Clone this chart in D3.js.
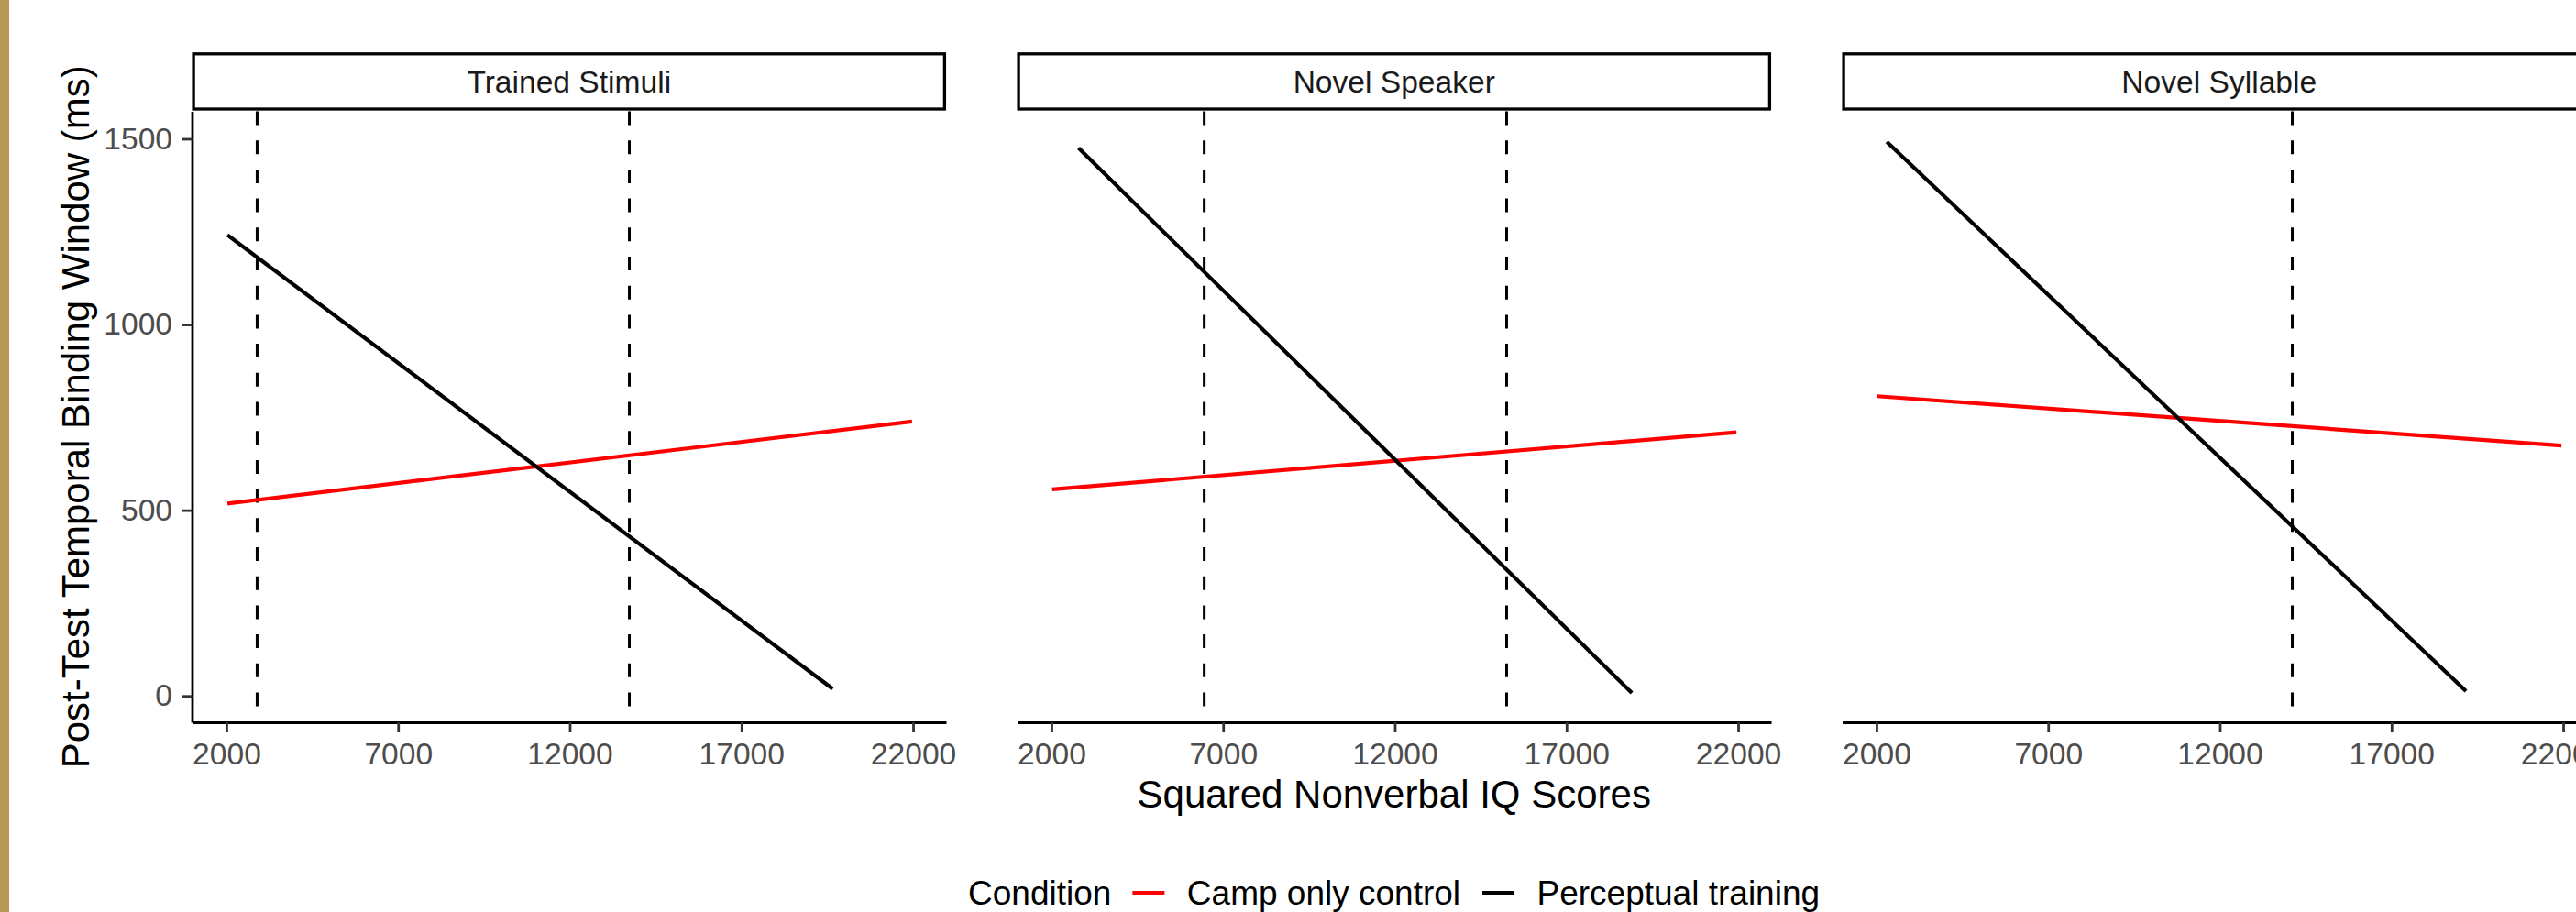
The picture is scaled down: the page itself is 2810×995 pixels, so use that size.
<!DOCTYPE html>
<html>
<head>
<meta charset="utf-8">
<script src="https://cdn.jsdelivr.net/npm/d3@7"></script>
<style>
  body { margin: 0; background: #fff; }
  svg { display: block; font-family: "Liberation Sans", Arial, sans-serif; }
</style>
</head>
<body>
<svg width="2810" height="995"></svg>
<script>
const panels = ["Trained Stimuli", "Novel Speaker", "Novel Syllable"]
const conditions = ["Camp only control", "Perceptual training"]
const xTicks = [2000, 7000, 12000, 17000, 22000]
const yTicks = [0, 500, 1000, 1500]

// end points of the fitted lines, one pair per panel (squared IQ, ms)
const campLines = [
  [{x: 2030, y: 518}, {x: 21970, y: 739}],
  [{x: 2020, y: 556}, {x: 21950, y: 710}],
  [{x: 2020, y: 807}, {x: 21950, y: 674}]
]
const trainingLines = [
  [{x: 2030, y: 1241}, {x: 19660, y: 19}],
  [{x: 2790, y: 1475}, {x: 18905, y: 8}],
  [{x: 2300, y: 1492}, {x: 19170, y: 13}]
]
// dashed vertical markers
const cutoffs = [[2894, 13736], [6450, 15257], [14110]]

const svg = d3.select("svg"),
      panelLeft = 209.5,
      panelStep = 900,
      panelWidth = 822.5,
      panelTop = 121.5,
      panelHeight = 666.5

const x = d3.scaleLinear().domain([1000, 22960]).range([0, panelWidth]),
      y = d3.scaleLinear().domain([-71, 1574]).range([panelHeight, 0]),
      colors = d3.scaleOrdinal().domain(conditions).range(["#FF0000", "#000000"])

const line = d3.line()
              .x(d => x(d.x))
              .y(d => y(d.y))

// gold edge strip on the left
svg.append("rect").attr("x", 0).attr("y", 0).attr("width", 10).attr("height", 995).style("fill", "#B89A55")

function styleAxis (a) {
  a.attr("font-family", null).attr("font-size", null)
  a.select(".domain").style("stroke", "#000").style("stroke-width", 2.8)
  a.selectAll(".tick line").style("stroke", "#333333").style("stroke-width", 2.8)
  a.selectAll(".tick text").style("fill", "#4D4D4D").style("font-size", "33.6px")
}

panels.forEach(function (name, i) {
  const g = svg.append("g")
    .attr("transform", "translate(" + (panelLeft + i * panelStep) + "," + panelTop + ")")

  //dashed cutoffs
  g.selectAll(".cutoff")
    .data(cutoffs[i])
    .enter().append("line")
      .attr("x1", d => x(d)).attr("x2", d => x(d))
      .attr("y1", 0).attr("y2", panelHeight)
      .style("stroke", "#000")
      .style("stroke-width", 3)
      .style("stroke-dasharray", "15,16.7")

  g.append("path")
    .attr("d", line(campLines[i]))
    .style("fill", "none")
    .style("stroke", colors(conditions[0]))
    .style("stroke-width", 4.2)

  g.append("path")
    .attr("d", line(trainingLines[i]))
    .style("fill", "none")
    .style("stroke", colors(conditions[1]))
    .style("stroke-width", 4.2)

  g.append("g")
    .attr("transform", "translate(0," + panelHeight + ")")
    .call(d3.axisBottom(x).tickValues(xTicks).tickFormat(d3.format("")).tickSize(11).tickSizeOuter(0).tickPadding(11))
    .call(styleAxis)

  //only the first facet carries the y axis
  if (i === 0) {
    g.append("g")
      .call(d3.axisLeft(y).tickValues(yTicks).tickFormat(d3.format("")).tickSize(11).tickSizeOuter(0).tickPadding(10.5))
      .call(styleAxis)
  }

  //facet strip
  g.append("rect")
    .attr("x", 1.6).attr("y", 58.8 - panelTop)
    .attr("width", panelWidth - 3.2).attr("height", 60.2)
    .style("fill", "#fff")
    .style("stroke", "#000")
    .style("stroke-width", 3.3)

  g.append("text")
    .attr("x", panelWidth / 2)
    .attr("y", 101 - panelTop)
    .attr("text-anchor", "middle")
    .style("font-size", "33.6px")
    .style("fill", "#1A1A1A")
    .text(name)
})

// axis titles
svg.append("text")
  .attr("x", panelLeft + panelStep + panelWidth / 2)
  .attr("y", 881)
  .attr("text-anchor", "middle")
  .style("font-size", "42px")
  .text("Squared Nonverbal IQ Scores")

svg.append("text")
  .attr("transform", "translate(97," + (panelTop + panelHeight / 2) + ") rotate(-90)")
  .attr("text-anchor", "middle")
  .style("font-size", "42px")
  .text("Post-Test Temporal Binding Window (ms)")

// legend, laid out left to right
const legend = svg.append("g").attr("transform", "translate(1056,987)")
let cursor = 0
const title = legend.append("text").attr("x", cursor).style("font-size", "37px").text("Condition")
cursor += title.node().getComputedTextLength() + 23

conditions.forEach(function (c) {
  legend.append("line")
    .attr("x1", cursor).attr("x2", cursor + 35)
    .attr("y1", -13).attr("y2", -13)
    .style("stroke", colors(c))
    .style("stroke-width", 4.2)
  cursor += 35 + 24.5
  const t = legend.append("text").attr("x", cursor).style("font-size", "37px").text(c)
  cursor += t.node().getComputedTextLength() + 24
})
</script>
</body>
</html>
